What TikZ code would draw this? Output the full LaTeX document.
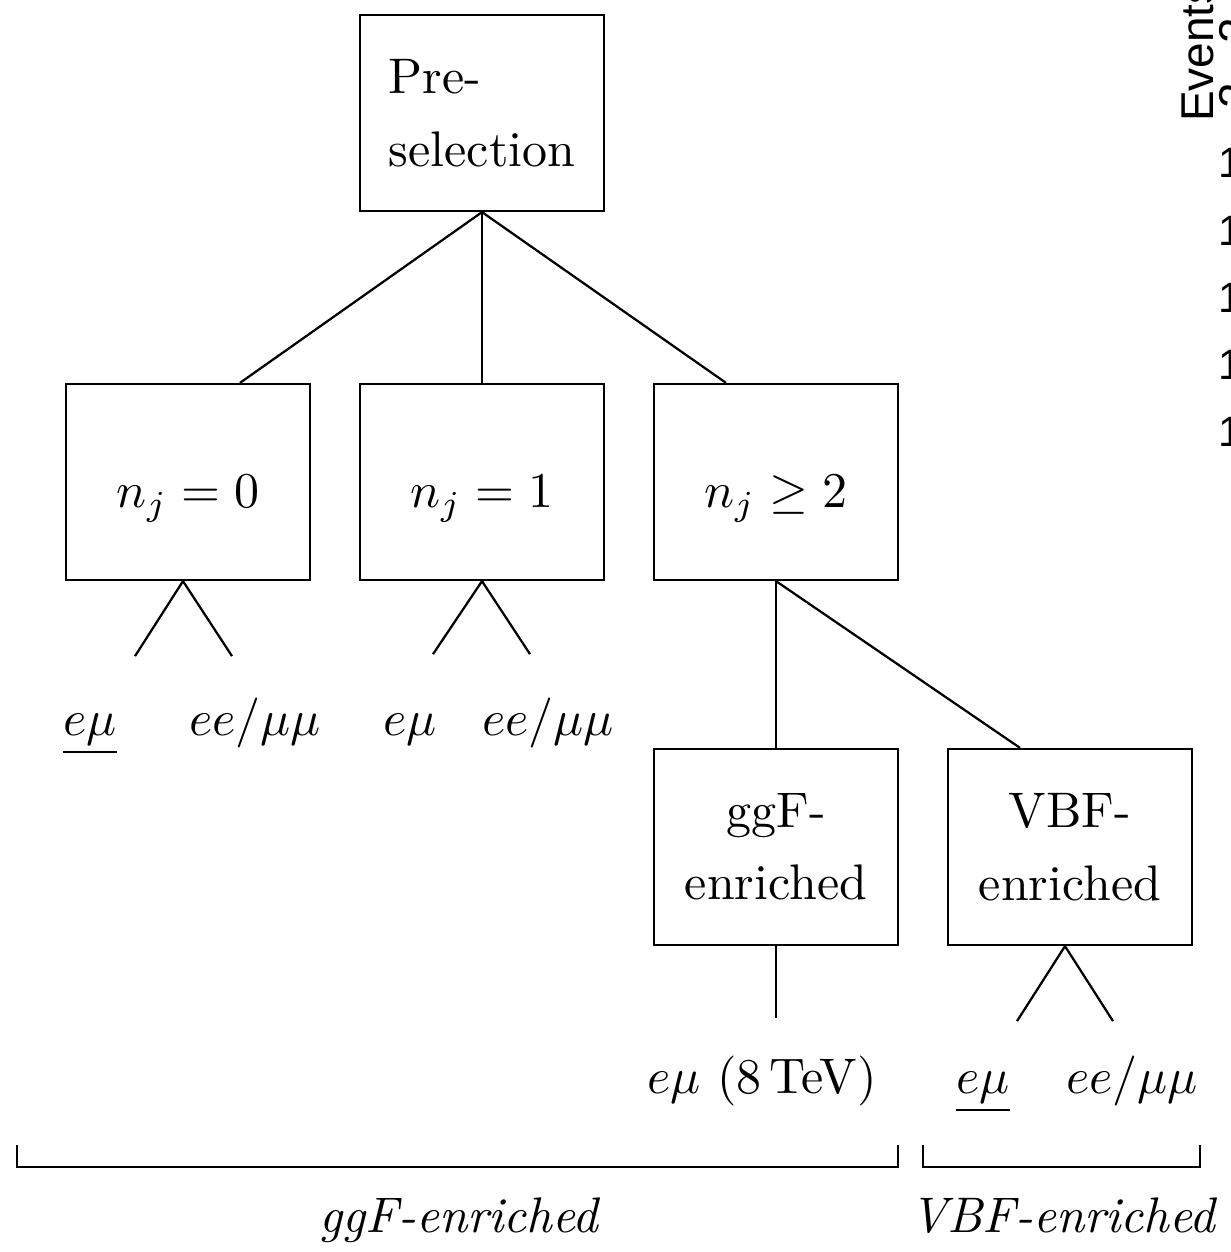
\documentclass[tikz,border=0pt]{standalone}
\usepackage{fontspec}
\usetikzlibrary{calc}
\newfontfamily\plotfont{Liberation Sans}
\begin{document}
\begin{tikzpicture}[x=0.2pt,y=-0.2pt,
  box/.style={draw,line width=0.45pt,minimum width=48.8pt,minimum height=39.2pt,inner sep=0pt,
    font=\fontsize{10}{14.5}\selectfont},
  mbox/.style={box,text height=12.6pt,text depth=2.4pt},
  lab/.style={inner sep=0pt,font=\fontsize{10}{12}\selectfont},
  conn/.style={line width=0.45pt},
  axis/.style={inner sep=0pt,font=\plotfont\fontsize{9.2}{10}\selectfont}]
\useasboundingbox (0,0) rectangle (1230,1252);
\clip (0,0) rectangle (1230,1252);
% boxes
\node[box,align=left] (pre) at (482,113) {Pre-\\selection};
\node[mbox] (n0) at (188,482) {$n_j=0$};
\node[mbox] (n1) at (482,482) {$n_j=1$};
\node[mbox] (n2) at (776,482) {$n_j\geq 2$};
\node[box,align=center] (ggf) at (776,847) {ggF-\\enriched};
\node[box,align=center] (vbf) at (1070,847) {VBF-\\enriched};
% tree connectors
\draw[conn] (pre.south) -- ($(n0.north)+(52,0)$);
\draw[conn] (pre.south) -- (n1.north);
\draw[conn] (pre.south) -- ($(n2.north)+(-50,0)$);
\coordinate (a0) at ($(n0.south)+(-5,0)$);
\draw[conn] (a0) -- ++(-48,75);
\draw[conn] (a0) -- ++(49,75);
\draw[conn] (n1.south) -- ++(-49,73);
\draw[conn] (n1.south) -- ++(48,73);
\draw[conn] (n2.south) -- (ggf.north);
\draw[conn] (n2.south) -- ($(vbf.north)+(-50,0)$);
\draw[conn] (ggf.south) -- ++(0,72);
\coordinate (a2) at ($(vbf.south)+(-5,0)$);
\draw[conn] (a2) -- ++(-48,75);
\draw[conn] (a2) -- ++(48,75);
% leaf labels
\node[lab,anchor=base] (l1) at (90,735) {$\underline{e\mu}$};
\node[lab,anchor=base] (l2) at (255,735) {$ee/\mu\mu$};
\node[lab,anchor=base] (l3) at (410,735) {$e\mu$};
\node[lab,anchor=base] (l4) at (548,735) {$ee/\mu\mu$};
\node[lab,anchor=base] (l5) at (762,1093) {$e\mu$ (8\,TeV)};
\node[lab,anchor=base] (l6) at (983,1093) {$\underline{e\mu}$};
\node[lab,anchor=base] (l7) at (1132,1093) {$ee/\mu\mu$};
% brackets
\draw[conn] (17,1145) -- (17,1167) -- (898,1167) -- (898,1145);
\draw[conn] (923,1145) -- (923,1167) -- (1200,1167) -- (1200,1145);
\node[lab,anchor=base] (g) at (460,1232) {\textit{ggF-enriched}};
\node[lab,anchor=base] (v) at (1064,1232) {\textit{VBF-enriched}};
% clipped plot remnants
\node[axis,rotate=90,anchor=base west] (ev) at (1213,123) {Events};
\node[axis,rotate=90,anchor=base west] (tw) at (1251,110) {2\hspace{8pt}2};
\foreach \yy in {163,231,298,365,432}{
  \node[axis,anchor=west,font=\plotfont\fontsize{8.5}{10}\selectfont] at (1217,\yy) {1};
}
\end{tikzpicture}
\end{document}
